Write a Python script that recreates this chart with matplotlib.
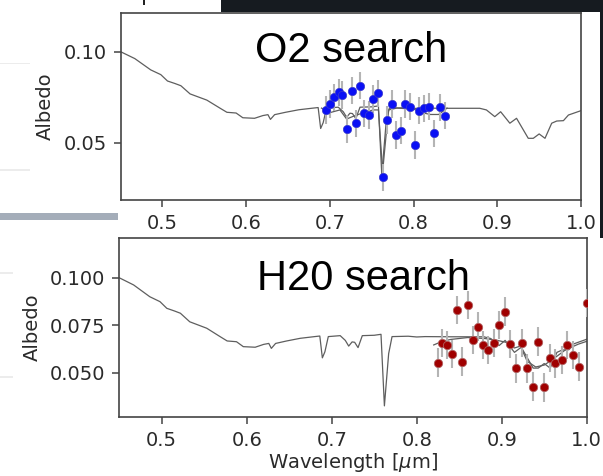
import matplotlib
matplotlib.use("Agg")
import matplotlib.pyplot as plt
from matplotlib.patches import Rectangle
import numpy as np

# ---------------- data ----------------
model_wl = [0.450, 0.467, 0.486, 0.498, 0.506, 0.515, 0.522, 0.533, 0.553, 0.569,
            0.577, 0.588, 0.596, 0.610, 0.620, 0.626, 0.629, 0.634, 0.647, 0.663,
            0.680, 0.686, 0.689, 0.692, 0.696, 0.710, 0.716, 0.720, 0.724, 0.727,
            0.731, 0.736, 0.750, 0.758, 0.762, 0.767, 0.771, 0.790, 0.800, 0.810,
            0.840, 0.879, 0.887, 0.897, 0.904, 0.915, 0.923, 0.937, 0.943, 0.950,
            0.957, 0.965, 0.971, 0.979, 0.985, 1.000]
model_alb = [0.1000, 0.0962, 0.0900, 0.0874, 0.0839, 0.0825, 0.0813, 0.0768, 0.0734, 0.0689,
             0.0667, 0.0663, 0.0637, 0.0634, 0.0649, 0.0654, 0.0628, 0.0654, 0.0667, 0.0681,
             0.0690, 0.0693, 0.0578, 0.0610, 0.0690, 0.0695, 0.0670, 0.0640, 0.0662, 0.0660,
             0.0632, 0.0695, 0.0697, 0.0702, 0.0325, 0.0600, 0.0690, 0.0692, 0.0688, 0.0690,
             0.0689, 0.0689, 0.0680, 0.0643, 0.0670, 0.0607, 0.0634, 0.0524, 0.0524, 0.0548,
             0.0524, 0.0607, 0.0619, 0.0621, 0.0652, 0.0676]

o2_bin_wl = [0.690, 0.700, 0.712, 0.720, 0.728, 0.740, 0.752, 0.758, 0.763, 0.770,
             0.780, 0.800, 0.810, 0.820, 0.830, 0.840]
o2_bin_alb = [0.0690, 0.0665, 0.0680, 0.0630, 0.0645, 0.0665, 0.0680, 0.0680, 0.0340, 0.0680,
              0.0690, 0.0685, 0.0665, 0.0655, 0.0655, 0.0690]

o2_wl = [0.695, 0.700, 0.705, 0.711, 0.715, 0.720, 0.726, 0.731, 0.736, 0.741,
         0.747, 0.752, 0.757, 0.763, 0.768, 0.774, 0.779, 0.785, 0.790, 0.796,
         0.802, 0.807, 0.813, 0.818, 0.824, 0.831, 0.837]
o2_alb = [0.0680, 0.0713, 0.0749, 0.0777, 0.0762, 0.0575, 0.0786, 0.0607, 0.0813, 0.0661,
          0.0652, 0.0740, 0.0771, 0.0310, 0.0625, 0.0713, 0.0542, 0.0566, 0.0713, 0.0698,
          0.0487, 0.0676, 0.0689, 0.0698, 0.0552, 0.0695, 0.0648]
o2_err = 0.0075

h2o_bin_wl = [0.820, 0.830, 0.840, 0.860, 0.880, 0.895, 0.905, 0.915, 0.922, 0.930,
              0.940, 0.950, 0.960, 0.975, 0.990, 1.000]
h2o_bin_alb = [0.0646, 0.0665, 0.0675, 0.0685, 0.0680, 0.0670, 0.0660, 0.0630, 0.0640, 0.0560,
               0.0530, 0.0540, 0.0570, 0.0620, 0.0650, 0.0665]

h2o_wl = [0.8247, 0.8294, 0.836, 0.842, 0.8478, 0.8537, 0.860, 0.866, 0.8725, 0.878,
          0.884, 0.891, 0.897, 0.904, 0.9098, 0.9165, 0.9235, 0.9294, 0.9365, 0.943,
          0.9498, 0.9568, 0.9627, 0.9706, 0.977, 0.9842, 0.9913, 1.000]
h2o_alb = [0.0553, 0.0655, 0.0646, 0.0598, 0.0830, 0.0558, 0.0856, 0.0672, 0.0742, 0.0646,
           0.0620, 0.0655, 0.0751, 0.0821, 0.0651, 0.0523, 0.0655, 0.0523, 0.0426, 0.0663,
           0.0423, 0.0576, 0.0549, 0.0567, 0.0646, 0.0593, 0.0532, 0.0868]
h2o_err = 0.0075

top_yticks = [0.05, 0.10]
top_ylabels = ["0.05", "0.10"]
bot_yticks = [0.050, 0.075, 0.100]
bot_ylabels = ["0.050", "0.075", "0.100"]
xticks = [0.5, 0.6, 0.7, 0.8, 0.9, 1.0]
xlabels = ["0.5", "0.6", "0.7", "0.8", "0.9", "1.0"]

# ---------------- figure ----------------
W, H = 603, 476
fig = plt.figure(figsize=(W / 100, H / 100), dpi=100)
fig.patch.set_facecolor("white")

def fr(x0, y0, x1, y1):
    """pixel box (top-left origin) -> figure fraction rect"""
    return [x0 / W, 1 - y1 / H, (x1 - x0) / W, (y1 - y0) / H]

ax1 = fig.add_axes(fr(120.6, 13.3, 581, 200))
ax2 = fig.add_axes(fr(119.2, 237.7, 586.7, 416.7))

tick_kw = dict(labelsize=14, length=5, width=1.1, color="#444444",
               labelcolor="#2a2a2a", pad=5)
line_col = "#5e5e5e"

for ax in (ax1, ax2):
    for s in ax.spines.values():
        s.set_color("#444444")
        s.set_linewidth(1.2)
    ax.tick_params(**tick_kw)
    ax.set_xlim(0.45, 1.0)
    ax.set_xticks(xticks)
    ax.set_xticklabels(xlabels)
    ax.plot(model_wl, model_alb, color=line_col, lw=0.9, zorder=2)

# top panel
ax1.plot(o2_bin_wl, o2_bin_alb, color=line_col, lw=0.9, zorder=2)
ax1.errorbar(o2_wl, o2_alb, yerr=o2_err, fmt="o", color="#0a10f5",
             markersize=6, markeredgecolor="#3a3acc", markeredgewidth=0.5,
             ecolor="#b4b4b4", elinewidth=1.5, capsize=0, zorder=3)
ax1.set_ylim(0.0185, 0.1211)
ax1.set_yticks(top_yticks)
ax1.set_yticklabels(top_ylabels)
ax1.set_ylabel("Albedo", fontsize=14, color="#2a2a2a", labelpad=6)

# bottom panel
ax2.plot(h2o_bin_wl, h2o_bin_alb, color=line_col, lw=0.9, zorder=2)
ax2.errorbar(h2o_wl, h2o_alb, yerr=h2o_err, fmt="o", color="#a00000",
             markersize=6, markeredgecolor="#b06060", markeredgewidth=0.6,
             ecolor="#b4b4b4", elinewidth=1.5, capsize=0, zorder=3)
ax2.set_ylim(0.0268, 0.1211)
ax2.set_yticks(bot_yticks)
ax2.set_yticklabels(bot_ylabels)
ax2.set_ylabel("Albedo", fontsize=14, color="#2a2a2a", labelpad=6)
ax2.set_xlabel(r"Wavelength [$\mu$m]", fontsize=14, color="#2a2a2a", labelpad=1)

# big slide labels
fig.text(255 / W, 1 - 62 / H, "O2 search", fontsize=30,
         family=["Liberation Sans", "DejaVu Sans"], color="black", va="baseline", ha="left")
fig.text(257 / W, 1 - 290 / H, "H20 search", fontsize=30,
         family=["Liberation Sans", "DejaVu Sans"], color="black", va="baseline", ha="left")

# slide decorations
def add_rect(x0, y0, x1, y1, color, z=5):
    fig.patches.append(Rectangle((x0 / W, 1 - y1 / H), (x1 - x0) / W, (y1 - y0) / H,
                                 transform=fig.transFigure, facecolor=color,
                                 edgecolor="none", zorder=z))

add_rect(221, 0, 603, 12, "#161b20")
add_rect(600, 0, 603, 238, "#161b20")
add_rect(142.5, 0, 144.5, 5, "#222222")
add_rect(0, 213, 118, 220, "#a4adb9")
add_rect(0, 62.5, 30, 64, "#ececec")
add_rect(0, 169, 30, 170.5, "#ececec")
add_rect(0, 272, 13, 273.5, "#ececec")
add_rect(0, 376, 13, 377.5, "#ececec")

fig.savefig("out.png", dpi=100, facecolor="white")
